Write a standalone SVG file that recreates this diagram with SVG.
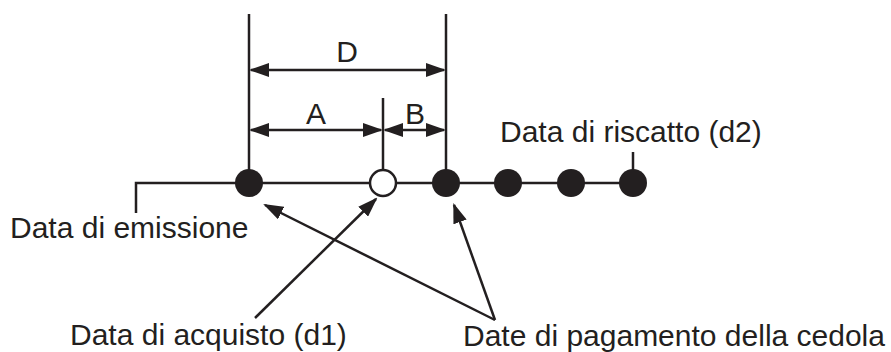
<svg xmlns="http://www.w3.org/2000/svg" width="891" height="352" viewBox="0 0 891 352">
<style>
.ln{stroke:#231f20;stroke-width:2.5;fill:none}
.dot{fill:#231f20}
.open{fill:#fff;stroke:#231f20;stroke-width:2.5}
text{font-family:"Liberation Sans",Arial,Helvetica,sans-serif;font-size:30px;fill:#231f20}
</style>
<defs>
<marker id="ah" markerUnits="userSpaceOnUse" markerWidth="20" markerHeight="14" refX="18" refY="7" orient="auto-start-reverse" viewBox="0 0 20 14">
<path d="M0,0 L20,7 L0,14 z" fill="#231f20"/>
</marker>
</defs>
<rect width="891" height="352" fill="#fff"/>
<g id="timeline">
<polyline class="ln" points="136,213 136,183 633,183"/>
<line class="ln" x1="249" y1="14" x2="249" y2="183"/>
<line class="ln" x1="446" y1="14" x2="446" y2="183"/>
<line class="ln" x1="383" y1="98" x2="383" y2="183"/>
<line class="ln" x1="633" y1="152" x2="633" y2="183"/>
</g>
<g id="emissione"><circle class="dot" cx="249" cy="183" r="14"/><text x="10" y="238">Data di emissione</text></g>
<g id="acquisto"><circle class="open" cx="383" cy="183" r="13"/><text x="70" y="345">Data di acquisto (d1)</text></g>
<g id="cedola1"><circle class="dot" cx="446" cy="183" r="14"/></g>
<g id="cedola2"><circle class="dot" cx="508" cy="183" r="14"/></g>
<g id="cedola3"><circle class="dot" cx="571" cy="183" r="14"/></g>
<g id="riscatto"><circle class="dot" cx="633" cy="183" r="14"/><text x="500" y="142">Data di riscatto (d2)</text></g>
<g id="pagamento"><text x="463" y="346">Date di pagamento della cedola</text></g>
<g id="dimensions">
<line class="ln" x1="251" y1="70" x2="444" y2="70" marker-start="url(#ah)" marker-end="url(#ah)"/>
<line class="ln" x1="251" y1="130" x2="381" y2="130" marker-start="url(#ah)" marker-end="url(#ah)"/>
<line class="ln" x1="385" y1="130" x2="444" y2="130" marker-start="url(#ah)" marker-end="url(#ah)"/>
<text x="347" y="62" text-anchor="middle">D</text>
<text x="316" y="124" text-anchor="middle">A</text>
<text x="415" y="124" text-anchor="middle">B</text>
</g>
<g id="connectors">
<line class="ln" x1="495" y1="320" x2="265" y2="205" marker-end="url(#ah)"/>
<line class="ln" x1="255" y1="318" x2="376" y2="199" marker-end="url(#ah)"/>
<line class="ln" x1="495" y1="320" x2="454" y2="205" marker-end="url(#ah)"/>
</g>
</svg>
